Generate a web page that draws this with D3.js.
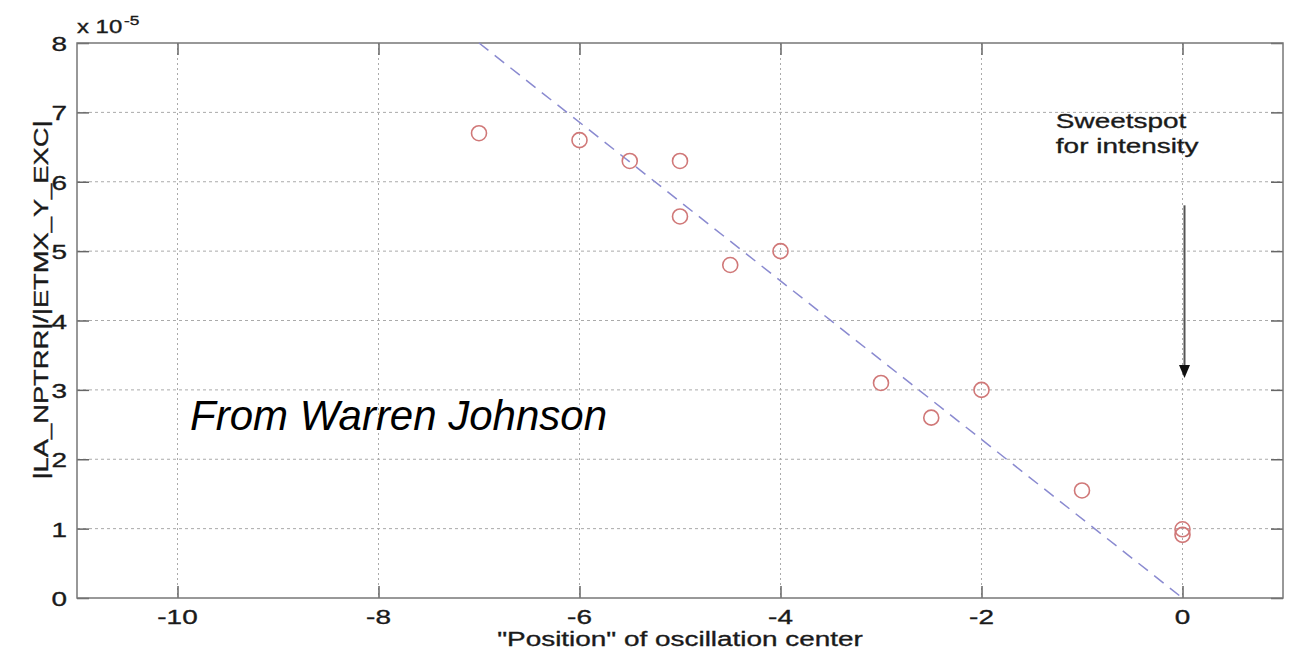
<!DOCTYPE html>
<html>
<head>
<meta charset="utf-8">
<script src="https://cdn.jsdelivr.net/npm/d3@7"></script>
<style>
  body { margin: 0; background: #fff; }
  text { font-family: "Liberation Sans", Arial, sans-serif; fill: #1a1a1a; stroke: #1a1a1a; stroke-width: 0.35px; }
</style>
</head>
<body>
<script>
var posX = [-7, -6, -5.5, -5, -5, -4.5, -4, -3, -2.5, -2, -1, 0, 0];
var ratioY = [6.7, 6.6, 6.3, 6.3, 5.5, 4.8, 5.0, 3.1, 2.6, 3.0, 1.55, 0.99, 0.91];

/* dashed fit line end points */
var fitX = [-7, 0];
var fitY = [8, 0];

/* arrow marking the sweet spot */
var arrowX = [0, 0];
var arrowY = [5.66, 3.17];

var xTicks = [-10, -8, -6, -4, -2, 0];
var yTicks = [0, 1, 2, 3, 4, 5, 6, 7, 8];

var W = 1291, H = 655;
var margin = {top: 43, right: 8, bottom: 57, left: 77},
    width = W - margin.left - margin.right,
    height = H - margin.top - margin.bottom;

var SX = 1.33; // the figure text is drawn wide

var svg = d3.select("body").append("svg")
    .attr("width", W)
    .attr("height", H);

var g = svg.append("g")
    .attr("transform", "translate(" + margin.left + "," + margin.top + ")");

var x = d3.scaleLinear().domain([-11, 1]).range([0, width]),
    y = d3.scaleLinear().domain([0, 8]).range([height, 0]);

/* text helper: stretch glyphs horizontally like the reference */
function label(parent, px, py, str, size, anchor, rot, sx) {
    return parent.append("text")
        .attr("transform", "translate(" + px + "," + py + ")" + (rot ? " rotate(" + rot + ")" : "") + " scale(" + (sx || SX) + ",1)")
        .attr("text-anchor", anchor || "start")
        .style("font-size", size + "px")
        .text(str);
}

/* grid */
g.selectAll(".gx").data(xTicks).enter().append("line")
    .attr("x1", function(d) { return x(d); }).attr("x2", function(d) { return x(d); })
    .attr("y1", 0).attr("y2", height)
    .attr("stroke", "#aaa").attr("stroke-width", 1).attr("stroke-dasharray", "2,3");
g.selectAll(".gy").data(yTicks.slice(1, -1)).enter().append("line")
    .attr("y1", function(d) { return y(d); }).attr("y2", function(d) { return y(d); })
    .attr("x1", 0).attr("x2", width)
    .attr("stroke", "#aaa").attr("stroke-width", 1).attr("stroke-dasharray", "3,3");

/* axes: ticks inside on all four sides */
var tk = 12;
function axisStyle(sel) {
    sel.select(".domain").remove();
    sel.selectAll(".tick line").attr("stroke", "#666").attr("stroke-width", 1.5);
    sel.selectAll(".tick text").remove();
}
g.append("g").attr("transform", "translate(0," + height + ")")
    .call(d3.axisBottom(x).tickValues(xTicks).tickSize(-tk)).call(axisStyle);
g.append("g")
    .call(d3.axisTop(x).tickValues(xTicks).tickSize(-tk)).call(axisStyle);
g.append("g")
    .call(d3.axisLeft(y).tickValues(yTicks).tickSize(-tk)).call(axisStyle);
g.append("g").attr("transform", "translate(" + width + ",0)")
    .call(d3.axisRight(y).tickValues(yTicks).tickSize(-tk)).call(axisStyle);

g.append("rect")
    .attr("width", width).attr("height", height)
    .attr("fill", "none").attr("stroke", "#777").attr("stroke-width", 1.5);

/* tick labels */
xTicks.forEach(function(d) {
    label(g, x(d), height + 26, d, 21, "middle");
});
yTicks.forEach(function(d) {
    label(g, -10, y(d) + 8, d, 21, "end");
});

/* exponent */
label(g, 0, -10, "x 10", 18, "start");
label(g, 47, -18, "-5", 13, "start");

/* axis titles */
label(g, width / 2, height + 48, "\"Position\" of oscillation center", 21, "middle");
label(svg, 48, 300, "|LA_NPTRR|/|ETMX_Y_EXC|", 21, "middle", -90, 1.3);

/* fit line */
var line = d3.line()
    .x(function(d, i) { return x(fitX[i]); })
    .y(function(d) { return y(d); });
g.append("path")
    .datum(fitY)
    .attr("d", line)
    .attr("fill", "none")
    .attr("stroke", "#8a8ad0")
    .attr("stroke-width", 1.5)
    .attr("stroke-dasharray", "12,8");

/* data markers */
g.selectAll(".pt").data(ratioY).enter().append("circle")
    .attr("cx", function(d, i) { return x(posX[i]); })
    .attr("cy", function(d) { return y(d); })
    .attr("r", 7.5)
    .attr("fill", "none")
    .attr("stroke", "#d07878")
    .attr("stroke-width", 1.6);

/* annotation arrow */
g.append("line")
    .attr("x1", x(arrowX[0]) + 2).attr("x2", x(arrowX[1]) + 2)
    .attr("y1", y(arrowY[0])).attr("y2", y(arrowY[1]) - 10)
    .attr("stroke", "#555").attr("stroke-width", 2);
g.append("path")
    .attr("d", "M" + (x(arrowX[1]) + 2 - 5.5) + "," + (y(arrowY[1]) - 13) +
               "L" + (x(arrowX[1]) + 2 + 5.5) + "," + (y(arrowY[1]) - 13) +
               "L" + (x(arrowX[1]) + 2) + "," + y(arrowY[1]) + "Z")
    .attr("fill", "#111");

label(g, x(-1.26), 128 - margin.top, "Sweetspot", 21, "start");
label(g, x(-1.26), 153 - margin.top, "for intensity", 21, "start");

/* credit */
svg.append("text")
    .attr("x", 190).attr("y", 430)
    .style("font-size", "42px")
    .style("font-style", "italic")
    .style("fill", "#000")
    .style("stroke", "none")
    .text("From Warren Johnson");
</script>
</body>
</html>
